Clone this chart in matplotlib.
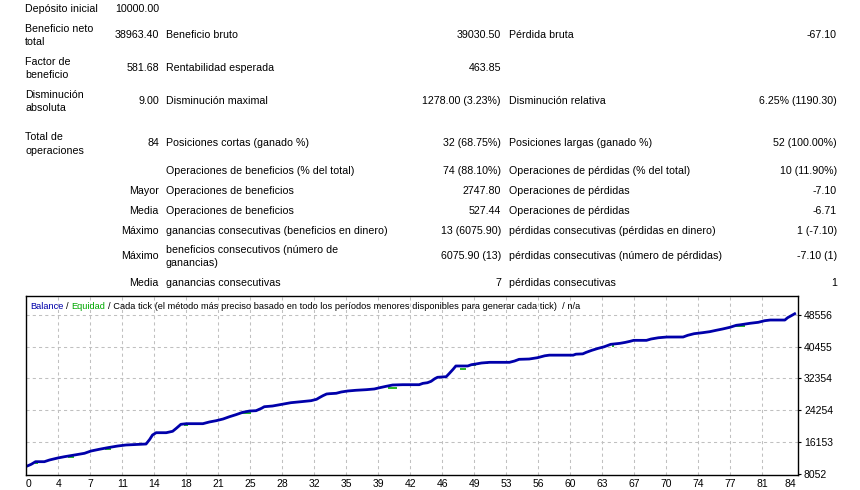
import numpy as np
import matplotlib
matplotlib.use("Agg")
import matplotlib.pyplot as plt

W, H = 860, 490
FS = 7.7
FS_TITLE = 6.65
FS_TICK = 7.5
plt.rcParams['font.family'] = ['Liberation Sans', 'DejaVu Sans']

# --- report table (texts) ---
deposito = ("Depósito inicial", "10000.00")
rows_top = [
    # label col1, value col1, label col2, value col2, label col3, value col3
    ("Beneficio neto\ntotal", "38963.40", "Beneficio bruto", "39030.50", "Pérdida bruta", "-67.10"),
    ("Factor de\nbeneficio", "581.68", "Rentabilidad esperada", "463.85", "", ""),
    ("Disminución\nabsoluta", "9.00", "Disminución maximal", "1278.00 (3.23%)", "Disminución relativa", "6.25% (1190.30)"),
    ("Total de\noperaciones", "84", "Posiciones cortas (ganado %)", "32 (68.75%)", "Posiciones largas (ganado %)", "52 (100.00%)"),
]
rows_trades = [
    ("", "Operaciones de beneficios (% del total)", "74 (88.10%)", "Operaciones de pérdidas (% del total)", "10 (11.90%)"),
    ("Mayor", "Operaciones de beneficios", "2747.80", "Operaciones de pérdidas", "-7.10"),
    ("Media", "Operaciones de beneficios", "527.44", "Operaciones de pérdidas", "-6.71"),
    ("Máximo", "ganancias consecutivas (beneficios en dinero)", "13 (6075.90)", "pérdidas consecutivas (pérdidas en dinero)", "1 (-7.10)"),
    ("Máximo", "beneficios consecutivos (número de\nganancias)", "6075.90 (13)", "pérdidas consecutivas (número de pérdidas)", "-7.10 (1)"),
    ("Media", "ganancias consecutivas", "7", "pérdidas consecutivas", "1"),
]

# --- balance curve (trade number, balance) ---
trade = [0.0, 0.57, 1.04, 2.0, 2.56, 3.47, 4.2, 5.3, 6.38, 7.1, 8.0, 8.9, 10.0, 10.9,
         13.1, 13.5, 13.8, 14.2, 15.3, 16.0, 16.4, 16.9, 17.5, 19.3, 20.0, 20.75, 21.5,
         22.2, 22.9, 23.65, 24.4, 25.1, 25.7, 26.0, 26.9, 27.5, 28.9, 30.0, 31.1, 31.7,
         32.0, 32.4, 32.8, 33.1, 33.85, 34.4, 35.1, 36.0, 37.1, 38.0, 38.6, 39.3, 40.0,
         41.1, 42.9, 43.3, 43.8, 44.2, 44.6, 44.9, 45.85, 46.2, 46.6, 46.9, 48.2, 48.6,
         49.1, 49.7, 50.6, 52.75, 53.3, 53.8, 54.9, 55.8, 56.6, 57.1, 59.7, 60.0, 60.75,
         61.1, 61.7, 62.4, 63.1, 63.8, 64.8, 65.4, 65.9, 66.3, 67.7, 68.2, 69.0, 69.9,
         71.7, 72.2, 72.9, 73.8, 74.6, 75.3, 76.0, 76.8, 77.5, 78.0, 79.0, 79.9, 80.6,
         81.2, 82.8, 83.1, 83.5, 84.0]
balance = [10000, 10570, 11230, 11230, 11660, 12170, 12500, 12930, 13360, 13945, 14380, 14780, 15210, 15470,
           15720, 16900, 18000, 18590, 18590, 18950, 19710, 20720, 20880, 20880, 21310, 21640, 22070,
           22650, 23160, 23770, 24100, 24180, 24790, 25190, 25370, 25620, 26210, 26460, 26720, 27070,
           27480, 27990, 28420, 28490, 28600, 28930, 29180, 29360, 29510, 29690, 30020, 30370, 30700,
           30780, 30780, 31120, 31280, 31640, 32300, 32660, 32810, 33670, 34690, 35530, 35530, 35860,
           36040, 36290, 36460, 36460, 36790, 37220, 37300, 37630, 38120, 38280, 38280, 38530, 38610,
           38970, 39480, 39990, 40420, 41030, 41280, 41530, 41790, 42040, 42040, 42380, 42700, 42880,
           42890, 43320, 43730, 43980, 44240, 44590, 44920, 45350, 45860, 46010, 46370, 46620, 47030,
           47200, 47200, 47790, 48300, 48960]

# equity dips visible below the balance line: start, end, level
dip_start = [1.0, 4.6, 8.6, 17.2, 23.3, 39.5, 47.3, 48.5, 49.8, 63.9, 77.3]
dip_end = [1.3, 5.2, 9.3, 17.7, 24.6, 40.5, 48.0, 49.1, 50.4, 64.2, 78.4]
dip_level = [10900, 12345, 14376, 20545, 23516, 29864, 34840, 35700, 36210, 40680, 45680]

yticks = [8052, 16153, 24254, 32354, 40455, 48556]
xtick_labels = ['0', '4', '7', '11', '14', '18', '21', '25', '28', '32', '35', '39', '42',
                '46', '49', '53', '56', '60', '63', '67', '70', '74', '77', '81', '84']

BLUE = '#0000AA'
GREEN = '#00A800'

fig = plt.figure(figsize=(W / 100, H / 100), dpi=100)


def put(x, y, s, ha='left', color='black', size=FS):
    # y is the baseline in pixels from the top; multi-line texts step 13 px
    for i, line in enumerate(s.split('\n')):
        fig.text(x / W, 1 - (y + 13 * i) / H, line, ha=ha, va='baseline',
                 fontsize=size, color=color)


# columns
C1L, C1R, C2L, C3R, C3L, C4R = 25, 159, 166, 501, 509, 837

put(C1L, 11.5, deposito[0])
put(C1R, 11.5, deposito[1], ha='right')

top_base = [38, 71, 103.5, 146.5]
for base, (l1, v1, l2, v2, l3, v3) in zip(top_base, rows_top):
    put(C1L, base - 6 if '\n' in l1 else base, l1)
    put(C1R, base, v1, ha='right')
    put(C2L, base, l2)
    put(C3R, base, v2, ha='right')
    put(C3L, base, l3)
    put(C4R, base, v3, ha='right')

trade_base = [174, 194, 214, 234, 259, 286.5]
for base, (lead, l2, v2, l3, v3) in zip(trade_base, rows_trades):
    put(C1R, base, lead, ha='right')
    put(C2L, base - 6 if '\n' in l2 else base, l2)
    put(C3R, base, v2, ha='right')
    put(C3L, base, l3)
    put(C4R, base, v3, ha='right')

# --- chart ---
left, right, top, bottom = 26, 797.7, 296, 475
ax = fig.add_axes([left / W, 1 - bottom / H, (right - left) / W, (bottom - top) / H])

for t0, t1, lv in zip(dip_start, dip_end, dip_level):
    ax.plot([t0, t1], [lv, lv], color=GREEN, lw=1.2, solid_capstyle='butt')
ax.plot(trade, balance, color=BLUE, lw=2.0, solid_capstyle='butt')

ax.set_xlim(0, 84.2)
ax.set_ylim(7851, 53300)

grid_pos = np.linspace(3.524, 3.524 + 3.4915 * 22, 23)
xt = [0] + list(grid_pos) + [84]
ax.set_xticks(xt)
ax.set_xticklabels(xtick_labels, fontsize=FS_TICK)
xl = ax.get_xticklabels()
xl[0].set_ha('left')
xl[-1].set_ha('right')
ax.tick_params(axis='x', length=0, pad=3)

ax.set_yticks(yticks)
ax.set_yticklabels([str(v) for v in yticks], fontsize=FS_TICK)
ax.yaxis.tick_right()
ax.tick_params(axis='y', length=2.5, width=0.8, pad=2, right=True, left=False)

ax.grid(True, color='#C0C0C0', lw=0.75, ls=(0, (3, 3)))
xg = ax.get_xgridlines()
xg[0].set_visible(False)
xg[-1].set_visible(False)
ax.get_ygridlines()[0].set_visible(False)
ax.set_axisbelow(True)

for sp in ax.spines.values():
    sp.set_color('black')
    sp.set_linewidth(1.0)

# legend line at the top of the chart, coloured piece by piece
pieces = [("Balance", BLUE), ("/", 'black'), ("Equidad", GREEN),
          ("/ Cada tick (el método más preciso basado en todo los períodos menores disponibles para generar cada tick)  / n/a", 'black')]
renderer = fig.canvas.get_renderer()


def width(s):
    t = fig.text(0, 0, s, fontsize=FS_TITLE)
    w = t.get_window_extent(renderer).width
    t.remove()
    return w


x0, yb = 30.5, 309
prefix = ""
for s, c in pieces:
    full = prefix + s
    xs = x0 + width(full) - width(s)
    put(xs, yb, s, color=c, size=FS_TITLE)
    prefix = full + " "

fig.savefig("out.png", dpi=100)
